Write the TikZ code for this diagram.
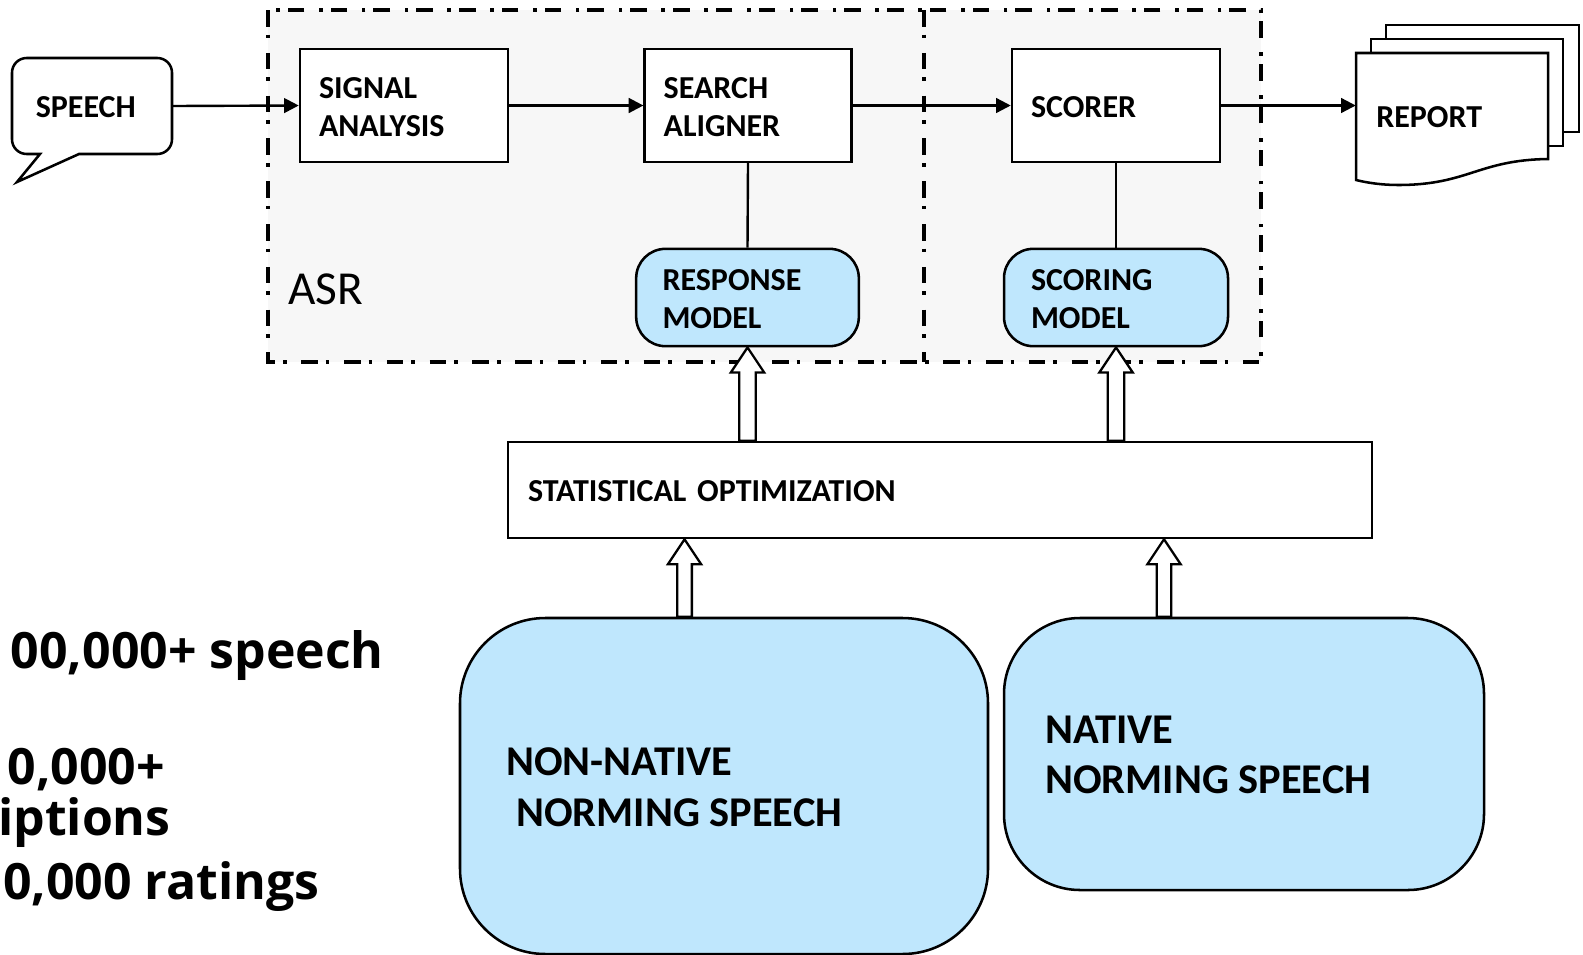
\documentclass[tikz,border=0pt]{standalone}
\usepackage{fontspec}
\setmainfont{Carlito}
\newfontfamily\statfont{Open Sans}
\usetikzlibrary{arrows.meta,calc}
\definecolor{panel}{HTML}{F7F7F7}
\definecolor{modelblue}{HTML}{BFE7FD}
\newcommand{\lowr}{\rule{0pt}{18.5pt}}
\tikzset{
  x=0.75pt,y=-0.75pt,
  every node/.style={font=\bfseries\fontsize{24}{28.2}\selectfont,align=left,text=black},
  outl/.style={draw=black,line width=1.9pt},
  procbox/.style={outl,fill=white,rectangle,inner sep=0pt,minimum width=#1,text width=#1-28.5pt,inner xsep=14.25pt,minimum height=84.5pt},
  modelbox/.style={outl,fill=modelblue,rectangle,rounded corners=22pt,inner sep=0pt,minimum width=167pt,minimum height=73pt,text width=127.5pt},
  flow/.style={draw=black,line width=1.8pt,-{Triangle[length=11pt,width=11pt]}},
  link/.style={draw=black,line width=1.8pt},
  dashdot/.style={draw=black,line width=2.6pt,dash pattern=on 12.5pt off 6pt on 2.6pt off 11pt},
  hollow/.style={draw=black,line width=1.7pt,fill=white,line join=miter},
  bigtxt/.style={anchor=west,inner sep=0pt,font=\bfseries\fontsize{31.8}{38}\selectfont},
  stattxt/.style={anchor=base east,inner sep=0pt,font=\statfont\bfseries\fontsize{37.5}{46}\selectfont},
}
\newcommand{\blockarrow}[4]{% from, to, half shaft, half head
  \draw[hollow] let \p1=(#1),\p2=(#2) in
    (\x1-#3,\y1) -- (\x1-#3,\y2-18.75pt) -- (\x1-#4,\y2-18.75pt) -- (\x2,\y2)
    -- (\x1+#4,\y2-18.75pt) -- (\x1+#3,\y2-18.75pt) -- (\x1+#3,\y1) -- cycle;}
\begin{document}
\begin{tikzpicture}
\useasboundingbox (0,0) rectangle (1583,954);
\fill[white] (0,0) rectangle (1583,954);
% ASR panel
\fill[panel] (268,10) rectangle (1261,362);
\draw[dashdot] (268,10) rectangle (1261,362);
\coordinate (divtop) at (924,10);
\coordinate (divbot) at (924,362);
\draw[dashdot] (divtop) -- (divbot);
\node[anchor=base west,inner sep=0pt,font=\fontsize{35.5}{40}\selectfont] (asr) at (288,304) {ASR};
% speech bubble
\draw[outl,fill=white,line join=miter]
  (40,154) [rounded corners=11pt] -- (12,154) -- (12,58) -- (172,58) -- (172,154) [rounded corners=0pt] -- (79,154) -- (17,182) -- cycle;
\node[inner sep=0pt,minimum width=120pt,minimum height=72pt] (speech) at (92,106) {};
\node[anchor=base west,inner sep=0pt] (speechtxt) at (35.5,117) {SPEECH};
% process boxes
\node[procbox=156pt] (signal) at (404,105.5) {\lowr SIGNAL\\ANALYSIS};
\node[procbox=155pt] (search) at (748,105.5) {\lowr SEARCH\\ALIGNER};
\node[procbox=156pt] (scorer) at (1116,105.5) {\lowr SCORER};
% models
\node[modelbox] (response) at (747.5,297.5) {\lowr RESPONSE\\MODEL};
\node[modelbox,minimum width=168pt] (scoring) at (1116,297.5) {\lowr SCORING\\MODEL};
% report stack
\draw[outl,fill=white,line join=miter] (1386,132) -- (1386,25) -- (1579,25) -- (1579,132) -- cycle;
\draw[outl,fill=white,line join=miter] (1371,146) -- (1371,39) -- (1563,39) -- (1563,146) -- cycle;
\draw[outl,fill=white,line join=miter] (1356,180) -- (1356,53) -- (1548,53) -- (1548,159)
  .. controls (1478,160) and (1468,185) .. (1398,185) .. controls (1383,185) and (1368,183) .. (1356,180) -- cycle;
\node[inner sep=0pt,minimum width=144pt,minimum height=95pt] (report) at (1452,116.5) {};
\node[anchor=base west,inner sep=0pt] (reporttxt) at (1376,127) {REPORT};
% optimisation bar
\node[outl,fill=white,rectangle,inner sep=0pt,minimum width=648pt,minimum height=72pt,text width=618pt] (stat) at (940,490) {\rule{0pt}{17.5pt}STATISTICAL OPTIMIZATION};
% norming speech
\node[outl,fill=modelblue,rectangle,rounded corners=64pt,inner sep=0pt,minimum width=396pt,minimum height=252pt] (nonnative) at (724,786) {};
\node[bigtxt] (nntxt) at (506,787.5) {NON-NATIVE\\\hspace*{7.5pt}NORMING SPEECH};
\node[outl,fill=modelblue,rectangle,rounded corners=57pt,inner sep=0pt,minimum width=360pt,minimum height=204pt] (native) at (1244,754) {};
\node[bigtxt] (ntxt) at (1045,755) {NATIVE\\NORMING SPEECH};
% connectors
\draw[flow] (speech.east) -- (signal.west);
\draw[flow] (signal.east) -- (search.west);
\draw[flow] (search.east) -- (scorer.west);
\draw[flow] (scorer.east) -- (scorer.east -| report.west);
\draw[link] (search.south) -- (response.north);
\draw[link] (scorer.south) -- (scoring.north);
% hollow arrows
\coordinate (a1) at (response.south |- stat.north);
\coordinate (a2) at (scoring.south |- stat.north);
\blockarrow{a1}{response.south}{6.2pt}{12.5pt}
\blockarrow{a2}{scoring.south}{6.2pt}{12.5pt}
\path (nonnative.north) ++(-29.6pt,0) coordinate (b1s);
\coordinate (b1e) at (b1s |- stat.south);
\path (native.north) ++(-60pt,0) coordinate (b2s);
\coordinate (b2e) at (b2s |- stat.south);
\blockarrow{b1s}{b1e}{5.5pt}{12.5pt}
\blockarrow{b2s}{b2e}{5.5pt}{12.5pt}
% statistics text (cut by the picture edge)
\node[stattxt] (t1) at (384,668) {00,000+ speech};
\node[stattxt] (t2) at (165,784) {0,000+};
\node[stattxt] (t3) at (171,835) {riptions};
\node[stattxt] (t4) at (320,899) {0,000 ratings};
\end{tikzpicture}
\end{document}
